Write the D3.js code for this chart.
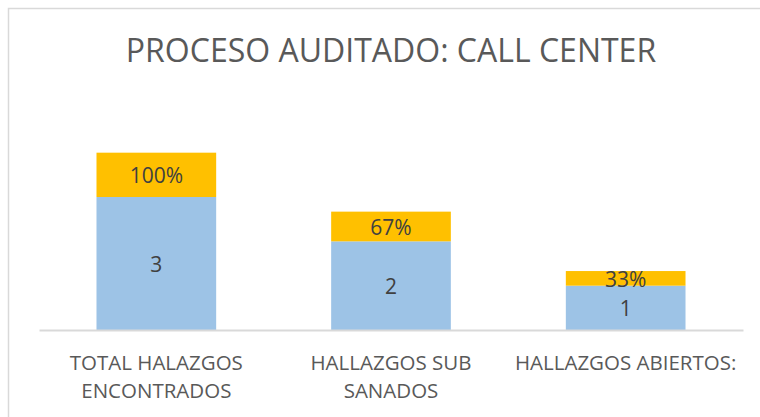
<!DOCTYPE html>
<html>
<head>
<meta charset="utf-8">
<script src="https://cdn.jsdelivr.net/npm/d3@7/dist/d3.min.js"></script>
<style>
  html, body { margin: 0; padding: 0; background: #fff; }
  svg { display: block; }
  text { font-family: "Open Sans", "Noto Sans", sans-serif; }
</style>
</head>
<body>
<svg id="chart" width="760" height="417"></svg>
<script>
const title = "PROCESO AUDITADO: CALL CENTER";
const categories = ["TOTAL HALAZGOS ENCONTRADOS", "HALLAZGOS SUB SANADOS", "HALLAZGOS ABIERTOS:"];
const hallazgos = [3, 2, 1];
const porcentaje = [1.00, 0.67, 0.33];
const porcentajeLabels = ["100%", "67%", "33%"];

const W = 760, H = 417;
const svg = d3.select("#chart");

// chart frame (left/top visible, continues off canvas)
svg.append("rect")
  .attr("x", 8.5).attr("y", 8.5)
  .attr("width", 800).attr("height", 500)
  .attr("fill", "#fff")
  .attr("stroke", "#D9D9D9").attr("stroke-width", 1.5);

const plot = { left: 39, right: 743, base: 330 };
const x = d3.scaleBand().domain(categories).range([plot.left, plot.right]).paddingInner(0.49).paddingOuter(0.245);
const y = d3.scaleLinear().domain([0, 4]).range([plot.base, plot.base - 4 * 44.33]);

const rows = categories.map((c, i) => ({ cat: c, h: hallazgos[i], p: porcentaje[i], pl: porcentajeLabels[i] }));
const stack = d3.stack().keys(["h", "p"])(rows);
const colors = { h: "#9DC3E6", p: "#FFC000" };

// bars
svg.append("g").selectAll("g").data(stack).join("g")
  .attr("fill", s => colors[s.key])
  .selectAll("rect").data(s => s).join("rect")
  .attr("x", d => x(d.data.cat))
  .attr("width", x.bandwidth())
  .attr("y", d => y(d[1]))
  .attr("height", d => y(d[0]) - y(d[1]));

// axis
const axis = svg.append("g").attr("transform", `translate(0,${plot.base})`)
  .call(d3.axisBottom(x).tickSize(0).tickFormat(""));
axis.select(".domain").attr("stroke", "#D9D9D9").attr("stroke-width", 2);

// data labels
const lbl = svg.append("g").attr("fill", "#404040").attr("font-size", 21).attr("text-anchor", "middle");
stack.forEach(s => {
  lbl.selectAll(null).data(s).join("text")
    .attr("x", d => x(d.data.cat) + x.bandwidth() / 2)
    .attr("y", d => (y(d[0]) + y(d[1])) / 2 + 8.5)
    .text(d => s.key === "h" ? d.data.h : d.data.pl);
});

// category labels with word wrap
const catG = svg.append("g").attr("fill", "#595959").attr("font-size", 20.5).attr("text-anchor", "middle");
const maxW = 232;
categories.forEach(c => {
  const cx = x(c) + x.bandwidth() / 2;
  const words = c.split(" ");
  const lines = [];
  let cur = "";
  const probe = catG.append("text");
  words.forEach(w => {
    const t = cur ? cur + " " + w : w;
    probe.text(t);
    if (probe.node().getComputedTextLength() > maxW && cur) { lines.push(cur); cur = w; }
    else cur = t;
  });
  lines.push(cur);
  probe.remove();
  lines.forEach((ln, k) => {
    catG.append("text").attr("x", cx).attr("y", 370 + k * 28).text(ln);
  });
});

// title
svg.append("text")
  .attr("x", 391).attr("y", 62)
  .attr("text-anchor", "middle")
  .attr("font-size", 32)
  .attr("fill", "#595959")
  .text(title);
</script>
</body>
</html>
